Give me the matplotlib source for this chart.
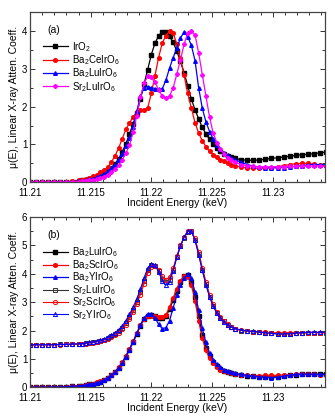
import numpy as np
import matplotlib
matplotlib.use("Agg")
import matplotlib.pyplot as plt
from matplotlib.ticker import MultipleLocator, FuncFormatter

plt.rcParams['font.family'] = ['Liberation Sans', 'DejaVu Sans']
plt.rcParams['mathtext.default'] = 'regular'

# energy grid (keV): coarse pre-edge, fine across the edge, coarse after
offs = np.concatenate([np.arange(0, 41, 5), np.arange(43, 170, 3), np.arange(174, 245, 5)])
energy = 11.21 + offs * 1e-4

# ---- panel (a)
iro2 = [0, 0, 0, 0, 0, 0.01, 0.01, 0.02, 0.03,
        0.05, 0.07, 0.09, 0.12, 0.15, 0.19, 0.24, 0.30, 0.38, 0.48,
        0.62, 0.80, 1.02, 1.28, 1.55, 1.82, 2.20, 2.60, 2.98, 3.38,
        3.68, 3.88, 3.97, 3.98, 3.86, 3.70, 3.47, 3.20, 2.90, 2.55,
        2.20, 1.92, 1.68, 1.45, 1.28, 1.14, 1.01, 0.90, 0.82, 0.76,
        0.70, 0.66, 0.63,
        0.60, 0.58, 0.58, 0.59, 0.61, 0.63, 0.65, 0.67, 0.69, 0.71,
        0.73, 0.74, 0.76, 0.78, 0.80]
ba2ce = [0, 0, 0, 0, 0.01, 0.01, 0.02, 0.03, 0.05,
         0.07, 0.09, 0.12, 0.16, 0.20, 0.26, 0.32, 0.40, 0.53, 0.70,
         0.90, 1.15, 1.40, 1.57, 1.73, 1.86, 1.90, 1.90, 1.97, 2.35,
         2.82, 3.30, 3.68, 3.88, 4.00, 3.95, 3.65, 3.28, 2.83, 2.35,
         1.96, 1.58, 1.30, 1.10, 0.94, 0.82, 0.73, 0.66, 0.60, 0.55,
         0.51, 0.47, 0.44,
         0.40, 0.38, 0.37, 0.37, 0.38, 0.39, 0.41, 0.44, 0.47, 0.49,
         0.50, 0.50, 0.48, 0.45, 0.44]
ba2lu_a = [0, 0, 0, 0, 0, 0.01, 0.01, 0.02, 0.03,
           0.04, 0.06, 0.08, 0.10, 0.13, 0.17, 0.22, 0.29, 0.37, 0.47,
           0.60, 0.76, 0.95, 1.17, 1.47, 1.88, 2.27, 2.50, 2.53, 2.50,
           2.48, 2.46, 2.47, 2.70, 3.02, 3.30, 3.55, 3.82, 3.97, 3.85,
           3.62, 3.22, 2.50, 1.96, 1.60, 1.34, 1.14, 0.98, 0.87, 0.78,
           0.71, 0.65, 0.60,
           0.53, 0.47, 0.43, 0.40, 0.38, 0.38, 0.38, 0.39, 0.40, 0.42,
           0.44, 0.46, 0.47, 0.47, 0.46]
sr2lu_a = [0, 0, 0, 0, 0, 0, 0.01, 0.01, 0.02,
           0.03, 0.04, 0.05, 0.06, 0.08, 0.11, 0.15, 0.20, 0.26, 0.34,
           0.45, 0.60, 0.77, 0.98, 1.33, 1.75, 2.25, 2.62, 2.80, 2.78,
           2.64, 2.45, 2.28, 2.22, 2.28, 2.50, 2.86, 3.24, 3.65, 3.95,
           4.00, 3.90, 3.42, 2.85, 2.28, 1.72, 1.30, 1.05, 0.88, 0.75,
           0.65, 0.58, 0.53,
           0.47, 0.44, 0.42, 0.41, 0.41, 0.41, 0.41, 0.41, 0.42, 0.42,
           0.42, 0.43, 0.43, 0.43, 0.42]

# ---- panel (b)
ba2lu = [0, 0, 0, 0, 0.01, 0.01, 0.02, 0.03, 0.05,
         0.06, 0.08, 0.10, 0.13, 0.16, 0.20, 0.26, 0.33, 0.42, 0.53,
         0.68, 0.86, 1.08, 1.33, 1.60, 1.88, 2.17, 2.40, 2.53, 2.55,
         2.50, 2.44, 2.43, 2.50, 2.75, 3.08, 3.40, 3.70, 3.92, 3.95,
         3.72, 3.20, 2.50, 1.85, 1.40, 1.10, 0.90, 0.76, 0.66, 0.59,
         0.54, 0.50, 0.47,
         0.43, 0.40, 0.38, 0.37, 0.36, 0.36, 0.37, 0.38, 0.42, 0.44,
         0.46, 0.46, 0.46, 0.45, 0.45]
ba2sc = [0, 0, 0, 0, 0.01, 0.01, 0.02, 0.03, 0.05,
         0.06, 0.08, 0.10, 0.13, 0.17, 0.21, 0.27, 0.34, 0.43, 0.55,
         0.70, 0.88, 1.10, 1.35, 1.62, 1.90, 2.18, 2.40, 2.52, 2.53,
         2.50, 2.46, 2.46, 2.55, 2.82, 3.15, 3.48, 3.76, 3.94, 3.90,
         3.60, 3.05, 2.35, 1.72, 1.30, 1.02, 0.84, 0.71, 0.62, 0.56,
         0.52, 0.49, 0.46,
         0.43, 0.42, 0.41, 0.41, 0.42, 0.42, 0.42, 0.43, 0.44, 0.45,
         0.46, 0.46, 0.45, 0.44, 0.44]
ba2y = [0, 0, 0, 0, 0.01, 0.01, 0.02, 0.03, 0.05,
        0.06, 0.08, 0.10, 0.13, 0.16, 0.20, 0.26, 0.33, 0.42, 0.53,
        0.68, 0.86, 1.08, 1.33, 1.60, 1.90, 2.20, 2.45, 2.58, 2.58,
        2.45, 2.22, 2.07, 2.10, 2.35, 2.80, 3.25, 3.60, 3.84, 3.98,
        3.85, 3.35, 2.72, 2.08, 1.58, 1.20, 0.97, 0.81, 0.70, 0.62,
        0.56, 0.52, 0.49,
        0.45, 0.42, 0.39, 0.37, 0.35, 0.34, 0.35, 0.39, 0.43, 0.45,
        0.46, 0.46, 0.46, 0.45, 0.45]
sr2lu = [1.50, 1.50, 1.50, 1.50, 1.50, 1.51, 1.51, 1.52, 1.53,
         1.54, 1.55, 1.57, 1.59, 1.61, 1.64, 1.68, 1.73, 1.79, 1.87,
         1.97, 2.10, 2.27, 2.48, 2.73, 3.02, 3.35, 3.75, 4.12, 4.30,
         4.28, 4.10, 3.82, 3.70, 3.80, 4.15, 4.60, 4.98, 5.28, 5.48,
         5.50, 5.20, 4.70, 4.15, 3.65, 3.20, 2.88, 2.62, 2.44, 2.32,
         2.20, 2.12, 2.06,
         2.00, 1.98, 1.96, 1.94, 1.92, 1.90, 1.88, 1.87, 1.88, 1.90,
         1.91, 1.92, 1.93, 1.93, 1.93]
sr2sc = [1.50, 1.50, 1.50, 1.50, 1.50, 1.50, 1.51, 1.52, 1.52,
         1.53, 1.54, 1.56, 1.57, 1.60, 1.62, 1.66, 1.70, 1.76, 1.83,
         1.92, 2.04, 2.20, 2.40, 2.65, 2.94, 3.27, 3.65, 4.02, 4.25,
         4.28, 4.14, 3.92, 3.80, 3.88, 4.20, 4.62, 5.00, 5.30, 5.50,
         5.52, 5.25, 4.78, 4.22, 3.72, 3.27, 2.93, 2.66, 2.47, 2.34,
         2.22, 2.13, 2.07,
         2.01, 1.98, 1.96, 1.95, 1.94, 1.93, 1.92, 1.92, 1.93, 1.93,
         1.93, 1.93, 1.93, 1.92, 1.92]
sr2y = [1.50, 1.50, 1.50, 1.50, 1.50, 1.51, 1.51, 1.52, 1.53,
        1.54, 1.56, 1.58, 1.60, 1.63, 1.66, 1.70, 1.76, 1.83, 1.92,
        2.03, 2.17, 2.35, 2.57, 2.83, 3.12, 3.46, 3.86, 4.20, 4.35,
        4.30, 4.08, 3.75, 3.60, 3.72, 4.10, 4.58, 4.98, 5.30, 5.50,
        5.50, 5.18, 4.68, 4.12, 3.62, 3.18, 2.86, 2.61, 2.43, 2.30,
        2.20, 2.13, 2.07,
        2.02, 1.99, 1.97, 1.95, 1.92, 1.90, 1.88, 1.88, 1.89, 1.91,
        1.93, 1.94, 1.94, 1.94, 1.94]

xticks = [11.21, 11.215, 11.22, 11.225, 11.23]

fig = plt.figure(figsize=(3.35, 4.2), dpi=100)
ax1 = fig.add_axes([0.0896, 0.566, 0.880, 0.405])
ax2 = fig.add_axes([0.0896, 0.078, 0.880, 0.405])

kw = dict(lw=0.9, ms=2.6)
ax1.plot(energy, iro2, '-s', color='black', label=r'IrO$_2$', **kw)
ax1.plot(energy, ba2ce, '-o', color='red', label=r'Ba$_2$CeIrO$_6$', **kw)
ax1.plot(energy, ba2lu_a, '-^', color='blue', label=r'Ba$_2$LuIrO$_6$', **kw)
ax1.plot(energy, sr2lu_a, '-P', color='magenta', label=r'Sr$_2$LuIrO$_6$', **kw)

ax2.plot(energy, ba2lu, '-s', color='black', label=r'Ba$_2$LuIrO$_6$', **kw)
ax2.plot(energy, ba2sc, '-o', color='red', label=r'Ba$_2$ScIrO$_6$', **kw)
ax2.plot(energy, ba2y, '-^', color='blue', label=r'Ba$_2$YIrO$_6$', **kw)
okw = dict(lw=0.8, ms=3.0, mfc='none', mew=0.7)
ax2.plot(energy, sr2lu, '-s', color='#333333', label=r'Sr$_2$LuIrO$_6$', **okw)
ax2.plot(energy, sr2sc, '-o', color='red', label=r'Sr$_2$ScIrO$_6$', **okw)
ax2.plot(energy, sr2y, '-^', color='blue', label=r'Sr$_2$YIrO$_6$', **okw)

for ax, ymax, tag in [(ax1, 4.5, '(a)'), (ax2, 6, '(b)')]:
    ax.set_xlim(11.21, 11.2343)
    ax.set_ylim(0, ymax)
    ax.set_xticks(xticks)
    ax.xaxis.set_major_formatter(FuncFormatter(lambda v, p: '%g' % round(v, 4)))
    ax.xaxis.set_minor_locator(MultipleLocator(0.001))
    ax.yaxis.set_major_locator(MultipleLocator(1))
    ax.yaxis.set_minor_locator(MultipleLocator(0.5))
    ax.tick_params(which='both', direction='in', top=True, right=True,
                   labelsize=7, width=0.7, color='#333333', pad=2)
    ax.tick_params(axis='x', which='major', pad=4)
    ax.tick_params(which='major', length=3.5)
    ax.tick_params(which='minor', length=2)
    for s in ax.spines.values():
        s.set_linewidth(0.9)
        s.set_color('#444444')
    ax.set_xlabel('Incident Energy (keV)', fontsize=7.5, labelpad=0)
    ax.set_ylabel(u'\u03bc(E), Linear X-ray Atten. Coeff.', fontsize=7.5, labelpad=2)
    ax.text(0.06, 0.895, tag, transform=ax.transAxes, fontsize=7.5, va='center')

ax1.legend(loc='upper left', bbox_to_anchor=(0.03, 0.86), frameon=False,
           fontsize=7, handlelength=2.6, handletextpad=0.4, labelspacing=-0.05,
           borderaxespad=0)
ax2.legend(loc='upper left', bbox_to_anchor=(0.03, 0.855), frameon=False,
           fontsize=7, handlelength=2.6, handletextpad=0.4, labelspacing=-0.14,
           borderaxespad=0)

fig.savefig('out.png', dpi=100)
